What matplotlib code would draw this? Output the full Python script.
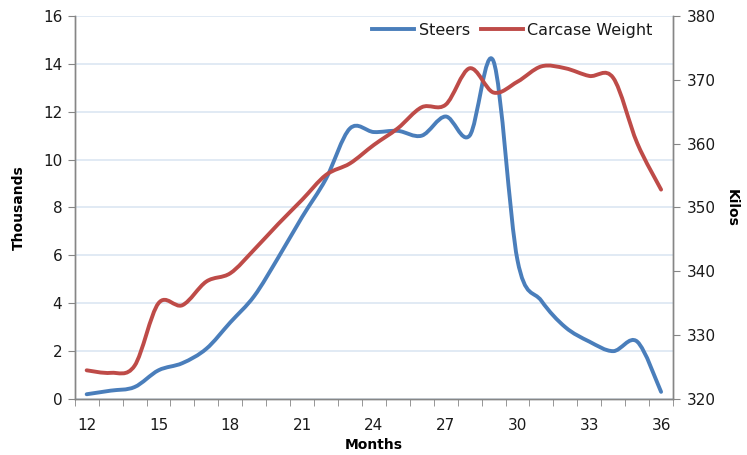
import numpy as np
import matplotlib
matplotlib.use("Agg")
import matplotlib.pyplot as plt
from matplotlib.path import Path
from matplotlib.patches import PathPatch
from matplotlib.lines import Line2D

months = list(range(12, 37))
steers = [0.2, 0.35, 0.5, 1.2, 1.5, 2.1, 3.2, 4.3, 5.9, 7.6, 9.2, 11.3, 11.15,
          11.2, 11.0, 11.8, 11.0, 14.1, 5.8, 4.1, 3.0, 2.4, 2.0, 2.4, 0.3]
carcase = [324.5, 324.1, 325.2, 335.0, 334.7, 338.4, 339.7, 343.4, 347.4, 351.2,
           355.1, 356.9, 359.8, 362.4, 365.7, 366.1, 371.8, 368.0, 369.7, 372.1,
           371.8, 370.6, 370.3, 360.1, 352.8]
xticks = [12, 15, 18, 21, 24, 27, 30, 33, 36]

BLUE = "#4a7ebb"
RED = "#be4b48"
GRID = "#dce6f2"
SPINE = "#868686"
TEXT = "#1a1a1a"
FONT = ["DejaVu Sans"]
plt.rcParams["font.family"] = FONT


def smooth_path(x, y):
    x = np.asarray(x, float)
    y = np.asarray(y, float)
    verts = [(x[0], y[0])]
    codes = [Path.MOVETO]
    n = len(x)
    for i in range(n - 1):
        p0 = (x[max(i - 1, 0)], y[max(i - 1, 0)])
        p1 = (x[i], y[i])
        p2 = (x[i + 1], y[i + 1])
        p3 = (x[min(i + 2, n - 1)], y[min(i + 2, n - 1)])
        c1 = (p1[0] + (p2[0] - p0[0]) / 6, p1[1] + (p2[1] - p0[1]) / 6)
        c2 = (p2[0] - (p3[0] - p1[0]) / 6, p2[1] - (p3[1] - p1[1]) / 6)
        verts += [c1, c2, p2]
        codes += [Path.CURVE4] * 3
    return Path(verts, codes)


fig = plt.figure(figsize=(7.47, 4.55), dpi=100)
ax = fig.add_axes([0.100, 0.123, 0.801, 0.842])
ax2 = ax.twinx()

ax.set_xlim(11.5, 36.5)
ax.set_ylim(0, 16)
ax2.set_ylim(320, 380)

ax.set_yticks(np.arange(0, 17, 2))
ax2.set_yticks(np.arange(320, 381, 10))
ax.set_xticks(xticks)
ax.set_xticks(np.arange(11.5, 37, 1), minor=True)
ax.tick_params(axis="x", which="major", length=0, pad=14, labelsize=11, labelcolor=TEXT)
ax.tick_params(axis="x", which="minor", length=5, color=SPINE, direction="out")
ax.tick_params(axis="y", length=5, color=SPINE, labelsize=11, pad=4, labelcolor=TEXT)
ax2.tick_params(axis="y", length=5, color=SPINE, labelsize=11, pad=5, labelcolor=TEXT)

ax.grid(axis="y", color=GRID, linewidth=1.2)
ax.set_axisbelow(True)
for a in (ax, ax2):
    a.spines["top"].set_visible(False)
    for s in ("left", "right", "bottom"):
        a.spines[s].set_color(SPINE)
        a.spines[s].set_linewidth(1.0)

ax.add_patch(PathPatch(smooth_path(months, steers), facecolor="none",
                       edgecolor=BLUE, linewidth=2.8, capstyle="round",
                       joinstyle="round", zorder=3))
ax2.add_patch(PathPatch(smooth_path(months, carcase), facecolor="none",
                        edgecolor=RED, linewidth=2.8, capstyle="round",
                        joinstyle="round", zorder=3))

ax.set_xlabel("Months", fontsize=10, fontweight="bold", labelpad=3)
ax.set_ylabel("Thousands", fontsize=10, fontweight="bold", labelpad=12)
ax2.set_ylabel("Kilos", fontsize=10, fontweight="bold", rotation=270, labelpad=16)

handles = [Line2D([], [], color=BLUE, linewidth=2.8),
           Line2D([], [], color=RED, linewidth=2.8)]
ax2.legend(handles, ["Steers", "Carcase Weight"], ncol=2, frameon=False,
           loc="upper right", bbox_to_anchor=(0.99, 1.02), fontsize=11.5,
           handlelength=2.6, handletextpad=0.3, columnspacing=0.7,
           labelcolor=TEXT)

fig.savefig("out.png", dpi=100)
